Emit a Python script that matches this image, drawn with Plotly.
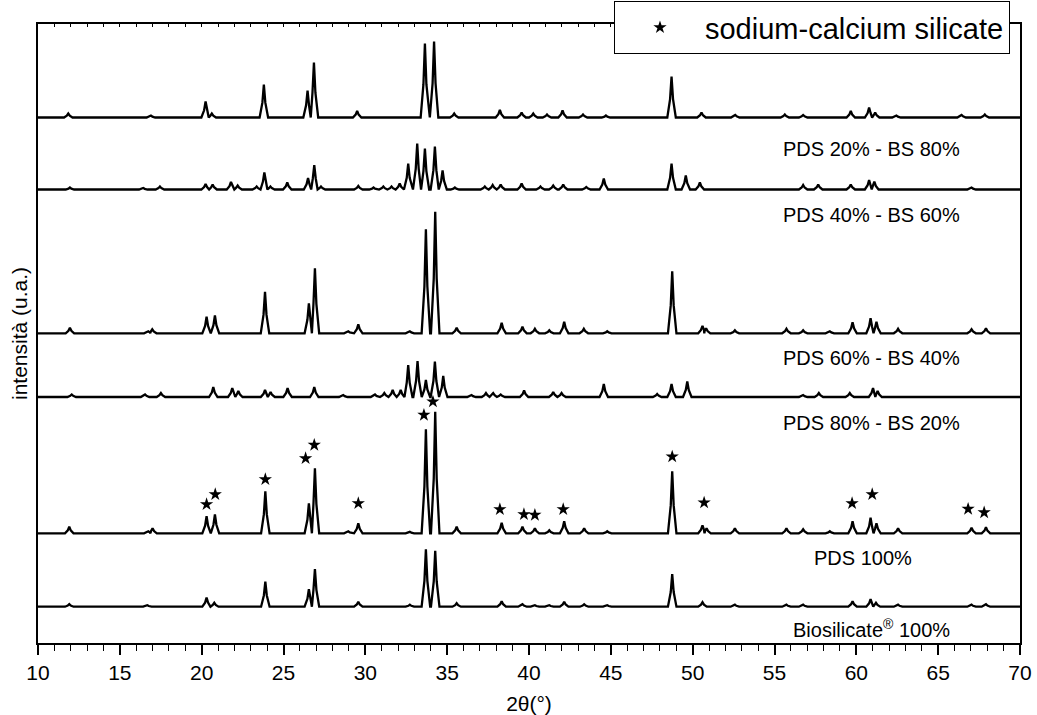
import plotly.graph_objects as go

# ---------------- data ----------------
# peak positions (2theta, deg) and peak heights (a.u. above each pattern's own baseline)
pds20_pos = [11.85, 16.9, 20.24, 20.62, 23.8, 26.47, 26.86, 29.5, 33.64, 34.2, 35.43, 38.22, 39.55, 40.26,
             41.1, 42.05, 43.3, 44.7, 48.71, 50.54, 52.6, 55.63, 56.75, 59.66, 60.78, 61.15, 62.45, 66.43, 67.85]
pds20_int = [4, 2, 16, 4, 33, 27, 55, 6.5, 74, 76, 4, 7.5, 5, 4,
             3, 7, 3, 2, 41, 5, 2.5, 3, 2.5, 6.5, 10, 5, 2, 2.5, 3]

pds40_pos = [11.95, 16.43, 17.45, 20.24, 20.67, 21.79, 22.2, 23.36, 23.83, 24.2, 25.23, 26.5, 26.88, 27.29,
             29.57, 30.5, 31.1, 31.6, 32.1, 32.62, 33.17, 33.64, 34.25, 34.72, 35.47, 37.3, 37.78, 38.27,
             39.55, 40.7, 41.48, 42.09, 43.5, 44.57, 48.71, 49.58, 50.44, 56.75, 57.67, 59.66, 60.78, 61.1, 67.04]
pds40_int = [2, 1.5, 3, 5.5, 5, 7.5, 4, 3, 17, 3, 7, 11.5, 24.5, 3,
             3.5, 2, 3, 3, 6, 26, 46, 41, 43, 19, 2, 3, 4.5, 5,
             6, 3, 4, 5, 2.5, 11, 26, 14, 7, 4.5, 5, 5, 9.5, 8, 2]

pds60_pos = [11.95, 16.74, 16.98, 20.3, 20.81, 23.87, 26.55, 26.92, 28.96, 29.57, 32.72, 33.7, 34.27, 35.58,
             38.33, 39.6, 40.36, 41.24, 42.15, 43.35, 44.78, 48.75, 50.6, 50.82, 52.58, 55.73, 56.75, 58.38,
             59.77, 60.87, 61.23, 62.55, 67.04, 67.92]
pds60_int = [5.5, 2, 4, 16.5, 18, 41.5, 30, 65, 2, 9, 2, 104, 121.5, 5.5,
             10.5, 6.5, 4.5, 3, 11.5, 4.5, 2, 62, 7.5, 5, 3, 4.5, 3, 2,
             11, 15, 11.5, 4.5, 4, 5]

pds80_pos = [12.06, 16.54, 17.51, 20.71, 21.87, 22.24, 23.87, 24.21, 25.25, 26.88, 28.65, 30.59, 31.16, 31.67,
             32.16, 32.62, 33.19, 33.7, 34.25, 34.76, 36.49, 37.37, 37.81, 38.27, 39.7, 41.48, 41.99, 44.57,
             47.83, 48.71, 49.67, 56.75, 57.71, 59.6, 61.02, 61.3]
pds80_int = [2.5, 2.5, 4, 10, 9, 6, 7, 5, 9, 10, 2, 2.5, 4, 7,
             7, 32, 36, 17, 35.5, 21, 2, 4, 4, 2.5, 6.5, 5, 4, 13,
             3, 13, 15.5, 2, 4, 4, 9, 6]

pds100_pos = [11.91, 16.74, 17.0, 20.3, 20.81, 23.89, 26.55, 26.92, 28.96, 29.57, 32.72, 33.7, 34.27, 35.58,
              38.33, 39.6, 40.36, 41.24, 42.15, 43.37, 44.78, 48.75, 50.6, 50.85, 52.58, 55.73, 56.75, 58.38,
              59.77, 60.87, 61.23, 62.55, 67.04, 67.92]
pds100_int = [6.5, 2, 5, 17, 19, 42, 30, 65, 2, 10, 1.5, 104, 121.5, 6.5,
              10.5, 6.5, 5, 3, 12, 5, 2, 62, 8, 5, 5, 5, 4, 2,
              12, 15.5, 10, 5, 5.5, 6]

bs100_pos = [11.91, 16.68, 20.3, 20.77, 23.89, 26.55, 26.92, 29.57, 32.72, 33.7, 34.27, 35.58, 38.33, 39.6,
             40.36, 41.24, 42.15, 43.37, 44.78, 48.75, 50.6, 52.58, 55.73, 56.75, 59.77, 60.87, 61.2, 62.55,
             67.04, 67.92]
bs100_int = [2.5, 1.5, 9, 4, 25, 17.5, 37.5, 5, 2, 57.5, 56, 3.5, 5.5, 2.5,
             1.5, 1.5, 5, 2.5, 1.5, 32.5, 4.5, 2, 2, 2, 5.5, 7.5, 4, 2,
             2, 2.5]

sample_names = ["PDS 20% - BS 80%", "PDS 40% - BS 60%", "PDS 60% - BS 40%",
                "PDS 80% - BS 20%", "PDS 100%", "Biosilicate<sup>®</sup> 100%"]
patterns_pos = [pds20_pos, pds40_pos, pds60_pos, pds80_pos, pds100_pos, bs100_pos]
patterns_int = [pds20_int, pds40_int, pds60_int, pds80_int, pds100_int, bs100_int]
# vertical stacking offsets of the patterns (a.u.)
offsets = [525.5, 453.5, 309.7, 246.0, 109.7, 36.3]

# sodium-calcium silicate reflections marked with stars
star_x = [20.3, 20.83, 23.89, 26.35, 26.88, 29.57, 33.58, 34.13, 38.22, 39.69, 40.36, 42.09,
          48.75, 50.7, 59.74, 60.97, 66.83, 67.81]
star_y = [138.7, 148.7, 163.7, 184.7, 198.0, 139.7, 228.0, 241.3, 133.7, 128.7, 128.0, 133.7,
          186.3, 140.3, 139.7, 148.7, 134.0, 130.5]

X_MIN, X_MAX = 10, 70


def peak_line(pos, inten, base):
    """Polyline through the baseline and each peak apex."""
    w_out, w_in = 0.26, 0.09
    pairs = sorted(zip(pos, inten))
    xs, ys = [X_MIN], [base]
    prev = None
    for p, h in pairs:
        if prev is not None and p - w_out < prev + w_out:
            mid = (prev + p) / 2
            xs[-1], ys[-1] = mid, base
        else:
            xs.append(p - w_out); ys.append(base)
        xs += [p - w_in, p, p + w_in, p + w_out]
        ys += [base + 0.45 * h, base + h, base + 0.45 * h, base]
        prev = p
    xs.append(X_MAX); ys.append(base)
    return xs, ys


fig = go.Figure()
for name, pos, inten, off in zip(sample_names, patterns_pos, patterns_int, offsets):
    xs, ys = peak_line(pos, inten, off)
    fig.add_trace(go.Scatter(x=xs, y=ys, mode="lines", name=name, showlegend=False,
                             line=dict(color="black", width=2.3)))

fig.add_trace(go.Scatter(x=star_x, y=star_y, mode="markers", name="sodium-calcium silicate",
                         marker=dict(symbol="star", size=10, color="black"), showlegend=True))

# empty trace so that the top (mirror) axis with inward ticks is drawn
fig.add_trace(go.Scatter(x=[None], y=[None], xaxis="x2", mode="lines", showlegend=False))

label_x = [60.9, 60.9, 60.9, 60.9, 60.43, 60.9]
label_y = [494.5, 428.3, 285.5, 220.5, 85.0, 15.0]
for txt, lx, ly in zip(sample_names, label_x, label_y):
    fig.add_annotation(x=lx, y=ly, text=txt, showarrow=False, xanchor="center", yanchor="middle",
                       font=dict(family="Liberation Sans, Arial, sans-serif", size=20, color="black"))

fig.update_layout(
    width=1037, height=715,
    margin=dict(l=38, r=17, t=24, b=72, autoexpand=False),
    paper_bgcolor="white", plot_bgcolor="white",
    font=dict(family="Liberation Sans, Arial, sans-serif", color="black"),
    showlegend=True,
    legend=dict(x=0.9898, y=0.9943, xanchor="right", yanchor="middle",
                bgcolor="white", bordercolor="black", borderwidth=1,
                font=dict(size=29, color="black"), itemwidth=80),
    xaxis=dict(range=[X_MIN, X_MAX], dtick=5, tick0=10, ticks="outside", ticklen=10, tickwidth=1.5,
               tickcolor="black", showline=True, linecolor="black", linewidth=2, mirror=True,
               showgrid=False, zeroline=False, automargin=False,
               minor=dict(dtick=1, ticks="outside", ticklen=6, tickwidth=1.2, tickcolor="black"),
               tickfont=dict(size=21), title=dict(text="2θ(°)", font=dict(size=21), standoff=14)),
    xaxis2=dict(range=[X_MIN, X_MAX], overlaying="x", side="top", anchor="y", dtick=1,
                ticks="inside", ticklen=3, tickwidth=1, tickcolor="black", showticklabels=False,
                showgrid=False, zeroline=False, showline=False, automargin=False),
    yaxis=dict(range=[0, 619], showticklabels=False, ticks="", showgrid=False, zeroline=False,
               showline=True, linecolor="black", linewidth=2, mirror=True, automargin=False,
               title=dict(text="intensità (u.a.)", font=dict(size=21), standoff=3)),
)

fig.write_html("out.html", config={"displayModeBar": False},
               post_script="document.body.style.margin='0';")
